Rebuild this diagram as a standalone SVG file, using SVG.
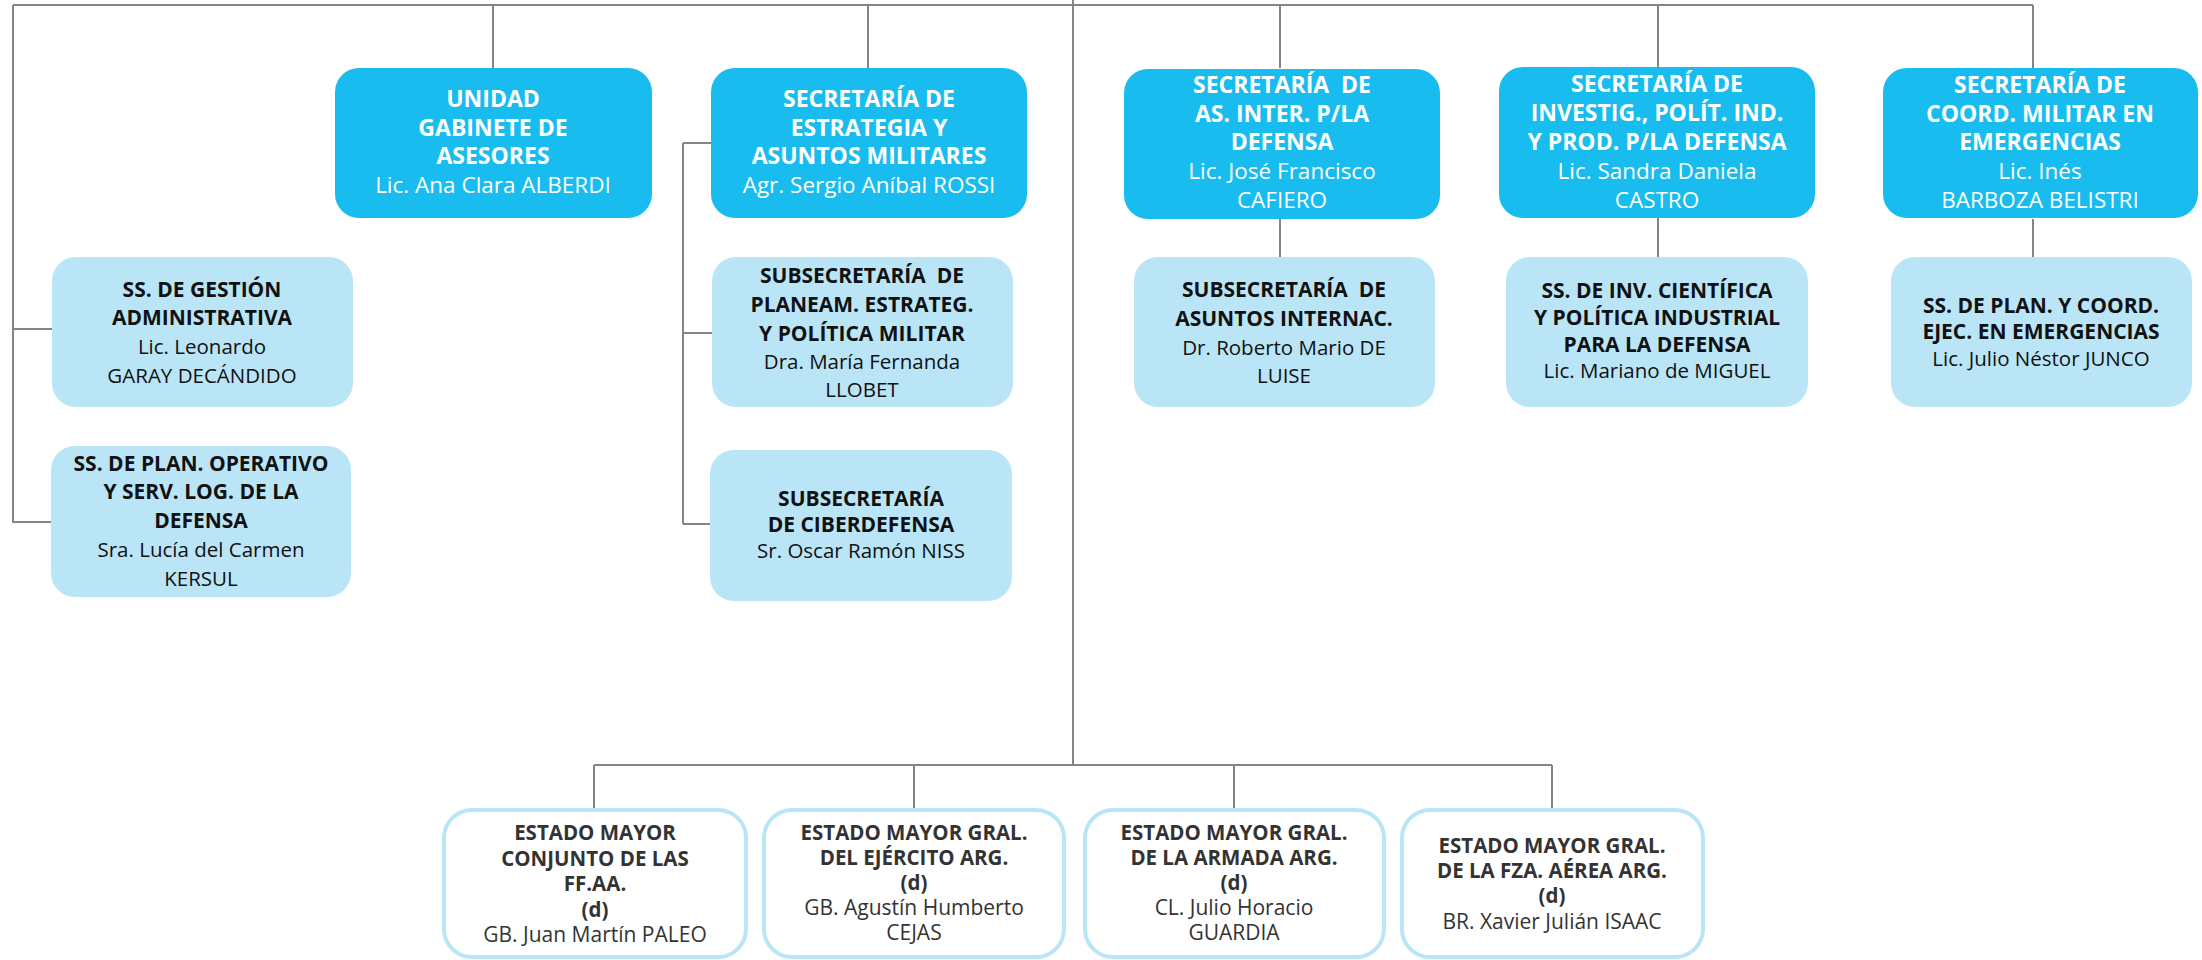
<svg xmlns="http://www.w3.org/2000/svg" width="2202" height="960" viewBox="0 0 2202 960">
<style>
.top{fill:#19BCEF}
.sub{fill:#B9E5F7}
.bot{fill:#FFFFFF;stroke:#B9E5F7;stroke-width:4}
.conn{stroke:#858585;stroke-width:2;fill:none}
text{font-family:"Open Sans","Noto Sans","Liberation Sans",sans-serif;text-anchor:middle}
.tw{fill:#FFFFFF;font-size:22.5px}
.tw.b{font-size:23px}
.tk{fill:#111111;font-size:20.5px}
.tk.b{font-size:21px}
.tg{fill:#333333;font-size:21px}
.tg.b{font-size:20.5px}
.b{font-weight:bold}
</style>
<rect width="2202" height="960" fill="#FFFFFF"/>
<g id="connectors">
<path class="conn" d="M13 5 H2033 M1073 0 V765 M13 5 V523 M13 329 H52 M13 522 H51"/>
<path class="conn" d="M493 5 V68 M868 5 V68 M1280 5 V68 M1658 5 V68 M2033 5 V68"/>
<path class="conn" d="M683 143 H711 M683 143 V524 M683 333 H712 M683 524 H710"/>
<path class="conn" d="M1280 219 V257 M1658 218 V257 M2033 219 V257"/>
<path class="conn" d="M594 765 H1552 M594 765 V808 M914 765 V808 M1234 765 V808 M1552 765 V808"/>
</g>
<g id="n-unidad">
<rect class="top" x="335" y="68" width="317" height="150" rx="24"/>
<text class="tw b" x="493" y="107">UNIDAD</text>
<text class="tw b" x="493" y="136">GABINETE DE</text>
<text class="tw b" x="493" y="164">ASESORES</text>
<text class="tw" x="493" y="193">Lic. Ana Clara ALBERDI</text>
</g>
<g id="n-estrategia">
<rect class="top" x="711" y="68" width="316" height="150" rx="24"/>
<text class="tw b" x="869" y="107">SECRETARÍA DE</text>
<text class="tw b" x="869" y="136">ESTRATEGIA Y</text>
<text class="tw b" x="869" y="164">ASUNTOS MILITARES</text>
<text class="tw" x="869" y="193">Agr. Sergio Aníbal ROSSI</text>
</g>
<g id="n-asinter">
<rect class="top" x="1124" y="69" width="316" height="150" rx="24"/>
<text class="tw b" x="1282" y="93" xml:space="preserve">SECRETARÍA  DE</text>
<text class="tw b" x="1282" y="122">AS. INTER. P/LA</text>
<text class="tw b" x="1282" y="150">DEFENSA</text>
<text class="tw" x="1282" y="179">Lic. José Francisco</text>
<text class="tw" x="1282" y="208">CAFIERO</text>
</g>
<g id="n-investig">
<rect class="top" x="1499" y="67" width="316" height="151" rx="24"/>
<text class="tw b" x="1657" y="92">SECRETARÍA DE</text>
<text class="tw b" x="1657" y="121">INVESTIG., POLÍT. IND.</text>
<text class="tw b" x="1657" y="150">Y PROD. P/LA DEFENSA</text>
<text class="tw" x="1657" y="179">Lic. Sandra Daniela</text>
<text class="tw" x="1657" y="208">CASTRO</text>
</g>
<g id="n-coord">
<rect class="top" x="1883" y="68" width="315" height="150" rx="24"/>
<text class="tw b" x="2040" y="93">SECRETARÍA DE</text>
<text class="tw b" x="2040" y="122">COORD. MILITAR EN</text>
<text class="tw b" x="2040" y="150">EMERGENCIAS</text>
<text class="tw" x="2040" y="179">Lic. Inés</text>
<text class="tw" x="2040" y="208">BARBOZA BELISTRI</text>
</g>
<g id="n-ssgestion">
<rect class="sub" x="52" y="257" width="301" height="150" rx="24"/>
<text class="tk b" x="202" y="297">SS. DE GESTIÓN</text>
<text class="tk b" x="202" y="325">ADMINISTRATIVA</text>
<text class="tk" x="202" y="354">Lic. Leonardo</text>
<text class="tk" x="202" y="383">GARAY DECÁNDIDO</text>
</g>
<g id="n-ssplanop">
<rect class="sub" x="51" y="446" width="300" height="151" rx="24"/>
<text class="tk b" x="201" y="471">SS. DE PLAN. OPERATIVO</text>
<text class="tk b" x="201" y="499">Y SERV. LOG. DE LA</text>
<text class="tk b" x="201" y="528">DEFENSA</text>
<text class="tk" x="201" y="557">Sra. Lucía del Carmen</text>
<text class="tk" x="201" y="586">KERSUL</text>
</g>
<g id="n-planeam">
<rect class="sub" x="712" y="257" width="301" height="150" rx="24"/>
<text class="tk b" x="862" y="283" xml:space="preserve">SUBSECRETARÍA  DE</text>
<text class="tk b" x="862" y="312">PLANEAM. ESTRATEG.</text>
<text class="tk b" x="862" y="341">Y POLÍTICA MILITAR</text>
<text class="tk" x="862" y="369">Dra. María Fernanda</text>
<text class="tk" x="862" y="397">LLOBET</text>
</g>
<g id="n-ciber">
<rect class="sub" x="710" y="450" width="302" height="151" rx="24"/>
<text class="tk b" x="861" y="506">SUBSECRETARÍA</text>
<text class="tk b" x="861" y="532">DE CIBERDEFENSA</text>
<text class="tk" x="861" y="558">Sr. Oscar Ramón NISS</text>
</g>
<g id="n-internac">
<rect class="sub" x="1134" y="257" width="301" height="150" rx="24"/>
<text class="tk b" x="1284" y="297" xml:space="preserve">SUBSECRETARÍA  DE</text>
<text class="tk b" x="1284" y="326">ASUNTOS INTERNAC.</text>
<text class="tk" x="1284" y="355">Dr. Roberto Mario DE</text>
<text class="tk" x="1284" y="383">LUISE</text>
</g>
<g id="n-ssinv">
<rect class="sub" x="1506" y="257" width="302" height="150" rx="24"/>
<text class="tk b" x="1657" y="298">SS. DE INV. CIENTÍFICA</text>
<text class="tk b" x="1657" y="325">Y POLÍTICA INDUSTRIAL</text>
<text class="tk b" x="1657" y="352">PARA LA DEFENSA</text>
<text class="tk" x="1657" y="378">Lic. Mariano de MIGUEL</text>
</g>
<g id="n-ssplancoord">
<rect class="sub" x="1891" y="257" width="301" height="150" rx="24"/>
<text class="tk b" x="2041" y="313">SS. DE PLAN. Y COORD.</text>
<text class="tk b" x="2041" y="339">EJEC. EN EMERGENCIAS</text>
<text class="tk" x="2041" y="366">Lic. Julio Néstor JUNCO</text>
</g>
<g id="n-emco">
<rect class="bot" x="444" y="810" width="302" height="147" rx="28"/>
<text class="tg b" x="595" y="840">ESTADO MAYOR</text>
<text class="tg b" x="595" y="865.5">CONJUNTO DE LAS</text>
<text class="tg b" x="595" y="891">FF.AA.</text>
<text class="tg b" x="595" y="916.5">(d)</text>
<text class="tg" x="595" y="942">GB. Juan Martín PALEO</text>
</g>
<g id="n-ejercito">
<rect class="bot" x="764" y="810" width="300" height="147" rx="28"/>
<text class="tg b" x="914" y="840">ESTADO MAYOR GRAL.</text>
<text class="tg b" x="914" y="865">DEL EJÉRCITO ARG.</text>
<text class="tg b" x="914" y="890">(d)</text>
<text class="tg" x="914" y="915">GB. Agustín Humberto</text>
<text class="tg" x="914" y="940">CEJAS</text>
</g>
<g id="n-armada">
<rect class="bot" x="1085" y="810" width="299" height="147" rx="28"/>
<text class="tg b" x="1234" y="840">ESTADO MAYOR GRAL.</text>
<text class="tg b" x="1234" y="865">DE LA ARMADA ARG.</text>
<text class="tg b" x="1234" y="890">(d)</text>
<text class="tg" x="1234" y="915">CL. Julio Horacio</text>
<text class="tg" x="1234" y="940">GUARDIA</text>
</g>
<g id="n-aerea">
<rect class="bot" x="1402" y="810" width="301" height="147" rx="28"/>
<text class="tg b" x="1552" y="853">ESTADO MAYOR GRAL.</text>
<text class="tg b" x="1552" y="878">DE LA FZA. AÉREA ARG.</text>
<text class="tg b" x="1552" y="903">(d)</text>
<text class="tg" x="1552" y="929">BR. Xavier Julián ISAAC</text>
</g>
</svg>
